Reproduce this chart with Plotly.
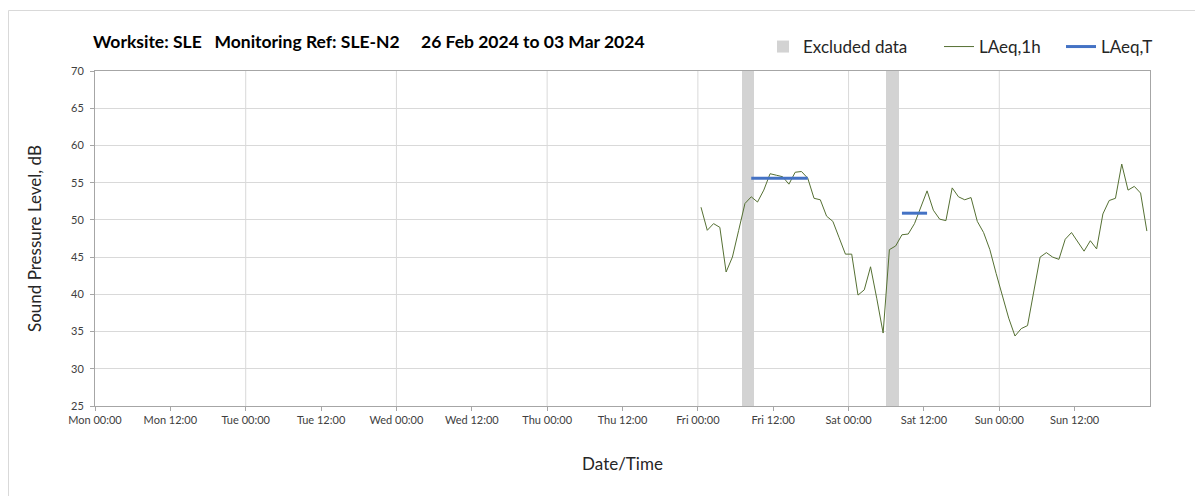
import pandas as pd
import plotly.graph_objects as go

# ---------------- data ----------------
title_text = "Worksite: SLE\u00a0\u00a0\u00a0Monitoring Ref: SLE-N2\u00a0\u00a0\u00a0\u00a0\u00a026 Feb 2024 to 03 Mar 2024"

# hourly LAeq,1h values (points at HH:30), Fri 00:30 .. Sun 23:30
laeq_1h_fri = [51.7, 48.6, 49.5, 49.0, 43.0, 45.0, 48.6, 52.2, 53.1, 52.4, 54.0, 56.2,
               56.0, 55.8, 54.8, 56.4, 56.5, 55.6, 52.9, 52.7, 50.5, 49.8, 47.6, 45.4]
laeq_1h_sat = [45.4, 39.9, 40.6, 43.7, 39.4, 34.8, 46.0, 46.5, 48.0, 48.1, 49.5, 51.8,
               53.9, 51.3, 50.1, 49.9, 54.3, 53.1, 52.7, 53.0, 49.8, 48.3, 46.0, 42.8]
laeq_1h_sun = [39.7, 36.8, 34.4, 35.4, 35.8, 40.6, 45.0, 45.6, 45.0, 44.7, 47.4, 48.3,
               47.1, 45.8, 47.2, 46.1, 50.8, 52.6, 52.9, 57.5, 54.0, 54.5, 53.6, 48.5]
laeq_1h = laeq_1h_fri + laeq_1h_sat + laeq_1h_sun
laeq_1h_times = pd.date_range("2024-03-01 00:30", periods=len(laeq_1h), freq="1h")

# excluded hours (bar centres)
excluded_times = pd.to_datetime(["2024-03-01 07:30", "2024-03-01 08:30",
                                 "2024-03-02 06:30", "2024-03-02 07:30"])
excluded_level = [70, 70, 70, 70]

# LAeq,T periods
laeq_t_times = pd.to_datetime(["2024-03-01 08:30", "2024-03-01 17:30", None,
                               "2024-03-02 08:30", "2024-03-02 12:30"])
laeq_t_values = [55.6, 55.6, None, 50.9, 50.9]

# axis ticks
tick_times = pd.date_range("2024-02-26 00:00", "2024-03-03 12:00", freq="12h")
tick_labels = ["Mon 00:00", "Mon 12:00", "Tue 00:00", "Tue 12:00", "Wed 00:00", "Wed 12:00",
               "Thu 00:00", "Thu 12:00", "Fri 00:00", "Fri 12:00", "Sat 00:00", "Sat 12:00",
               "Sun 00:00", "Sun 12:00"]
day_grid_times = pd.date_range("2024-02-27 00:00", "2024-03-03 00:00", freq="24h")
x_start, x_end = "2024-02-26 00:00", "2024-03-04 00:00"
y_ticks = [25, 30, 35, 40, 45, 50, 55, 60, 65, 70]

# ---------------- figure ----------------
FONT = "Lato, 'Open Sans', sans-serif"
W, H = 1203, 496
OFF = 8  # page body margin
L, R, T, B = 95 - OFF, 1150 - OFF, 71 - OFF, 406 - OFF
fig = go.Figure()

fig.add_trace(go.Bar(
    x=excluded_times, y=excluded_level, width=3600000,
    name="Excluded data", marker=dict(color="#D3D3D3", line=dict(width=0)),
    hoverinfo="skip", legend="legend"))

fig.add_trace(go.Scatter(
    x=laeq_1h_times, y=laeq_1h, mode="lines", name="LAeq,1h",
    line=dict(color="#557033", width=1), legend="legend2"))

fig.add_trace(go.Scatter(
    x=laeq_t_times, y=laeq_t_values, mode="lines", name="LAeq,T",
    line=dict(color="#4472C4", width=3), connectgaps=False, legend="legend3"))

shapes = []
for t in day_grid_times:
    shapes.append(dict(type="line", xref="x", yref="paper", x0=t, x1=t, y0=0, y1=1,
                       line=dict(color="#D9D9D9", width=1), layer="below"))
# outer chart border
pw, ph = R - L, B - T
shapes.append(dict(type="rect", xref="paper", yref="paper",
                   x0=(0.5 - L) / pw, x1=(1215 - L) / pw,
                   y0=(B - 510) / ph, y1=(B - 2.5) / ph,
                   line=dict(color="#D9D9D9", width=1), layer="below"))

leg_y = 1 - (47 - OFF) / H
leg_common = dict(orientation="h", xanchor="left", yanchor="middle", xref="container",
                  yref="container", y=leg_y, font=dict(size=17, color="#262626"),
                  bgcolor="rgba(0,0,0,0)", itemwidth=30)

fig.update_layout(
    width=W, height=H,
    margin=dict(l=L, r=W - R, t=T, b=H - B, autoexpand=False),
    paper_bgcolor="white", plot_bgcolor="white",
    font=dict(family=FONT, color="#404040"),
    title=dict(text=title_text, x=(93 - OFF) / W, xanchor="left", xref="container",
               y=1 - (42 - OFF) / H, yanchor="middle", yref="container",
               font=dict(family=FONT, size=17.5, color="#000000", weight="bold")),
    legend=dict(x=(763 - OFF) / W, **leg_common),
    legend2=dict(x=(939 - OFF) / W, **leg_common),
    legend3=dict(x=(1061 - OFF) / W, **leg_common),
    bargap=0, showlegend=True, shapes=shapes,
    xaxis=dict(type="date", range=[x_start, x_end], tickmode="array",
               tickvals=tick_times, ticktext=tick_labels, automargin=False,
               showgrid=False, ticks="outside", ticklen=4, tickcolor="#A6A6A6",
               showline=True, linecolor="#A6A6A6", linewidth=1, mirror=True,
               tickfont=dict(size=11, color="#404040"),
               title=dict(text="Date/Time\u00a0\u00a0\u00a0\u00a0\u00a0",
                          font=dict(size=17, color="#262626"), standoff=32)),
    yaxis=dict(range=[25, 70], tickvals=y_ticks, showgrid=True, gridcolor="#D9D9D9",
               ticks="outside", ticklen=4, tickcolor="#A6A6A6", automargin=False,
               showline=True, linecolor="#A6A6A6", linewidth=1, mirror=True,
               zeroline=False, tickfont=dict(size=11, color="#404040"),
               ticklabelstandoff=4,
               title=dict(text="Sound Pressure Level, dB", font=dict(size=17, color="#262626"),
                          standoff=25)),
)

fig.write_html("out.html")
